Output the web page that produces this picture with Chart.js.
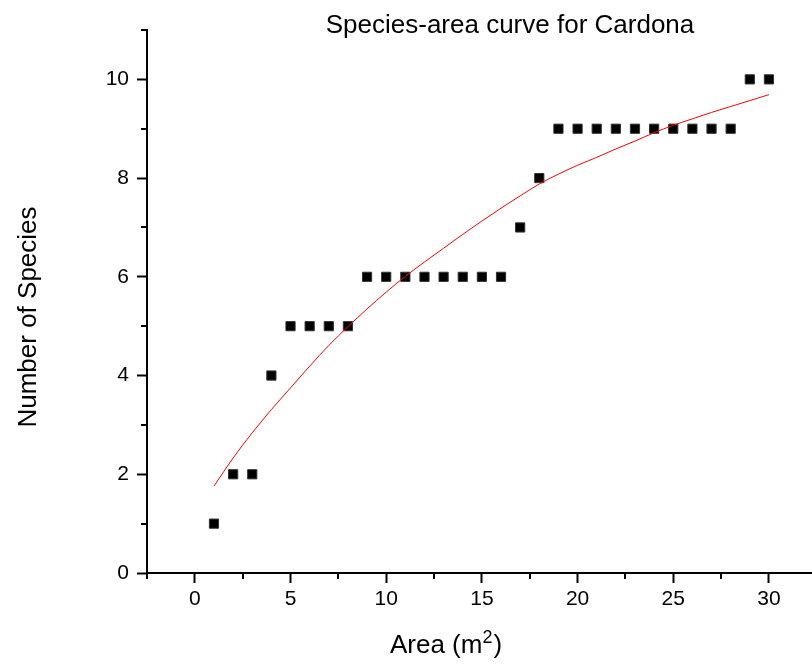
<!DOCTYPE html>
<html>
<head>
<meta charset="utf-8">
<title>Species-area curve for Cardona</title>
<script src="https://cdn.jsdelivr.net/npm/chart.js@4.4.1/dist/chart.umd.min.js"></script>
<style>
    html, body { margin: 0; padding: 0; background: #fff; overflow: hidden; }
    #chart-wrap { width: 812px; height: 666px; }
</style>
</head>
<body>
<div id="chart-wrap"><canvas id="species-area-chart" width="812" height="666"></canvas></div>
<script>
// --- Data ---
const areas = [1, 2, 3, 4, 5, 6, 7, 8, 9, 10, 11, 12, 13, 14, 15,
               16, 17, 18, 19, 20, 21, 22, 23, 24, 25, 26, 27, 28, 29, 30];
const speciesCounts = [1, 2, 2, 4, 5, 5, 5, 5, 6, 6, 6, 6, 6, 6, 6,
                       6, 7, 8, 9, 9, 9, 9, 9, 9, 9, 9, 9, 9, 10, 10];
// fitted curve, one value per area
const fitValues = [1.76, 2.33, 2.84, 3.31, 3.75, 4.19, 4.61, 4.99, 5.35, 5.69,
                   6.01, 6.30, 6.58, 6.86, 7.13, 7.39, 7.64, 7.88, 8.08, 8.26,
                   8.42, 8.59, 8.75, 8.92, 9.07, 9.20, 9.33, 9.45, 9.57, 9.69];

const xMajorTicks = [0, 5, 10, 15, 20, 25, 30];
const xMinorTicks = [-2.5, 2.5, 7.5, 12.5, 17.5, 22.5, 27.5];
const yMajorTicks = [0, 2, 4, 6, 8, 10];
const yMinorTicks = [1, 3, 5, 7, 9, 11];

const chartTitle = 'Species-area curve for Cardona';
const yTitle = 'Number of Species';
const xTitleMain = 'Area (m';
const xTitleSup = '2';
const xTitleEnd = ')';

const FONT = '"Liberation Sans", Arial, Helvetica, sans-serif';

// short ticks between the labelled ones
const minorTicksPlugin = {
    id: 'minorTicks',
    afterDraw(chart) {
        const { ctx, chartArea, scales } = chart;
        ctx.save();
        ctx.strokeStyle = '#000';
        ctx.lineWidth = 2;
        ctx.beginPath();
        xMinorTicks.forEach(v => {
            const px = Math.round(scales.x.getPixelForValue(v));
            ctx.moveTo(px, chartArea.bottom);
            ctx.lineTo(px, chartArea.bottom + 6);
        });
        yMinorTicks.forEach(v => {
            const py = Math.round(scales.y.getPixelForValue(v));
            ctx.moveTo(chartArea.left - 6, py);
            ctx.lineTo(chartArea.left, py);
        });
        ctx.stroke();
        ctx.restore();
    }
};

// chart title and axis titles (x title has a superscript)
const titlesPlugin = {
    id: 'titles',
    afterDraw(chart) {
        const { ctx } = chart;
        ctx.save();
        ctx.fillStyle = '#000';
        ctx.textBaseline = 'alphabetic';

        ctx.textAlign = 'center';
        ctx.font = `26px ${FONT}`;
        ctx.fillText(chartTitle, 510, 33);

        ctx.save();
        ctx.translate(36, 317);
        ctx.rotate(-Math.PI / 2);
        ctx.font = `26px ${FONT}`;
        ctx.fillText(yTitle, 0, 0);
        ctx.restore();

        ctx.textAlign = 'left';
        ctx.font = `26px ${FONT}`;
        const wMain = ctx.measureText(xTitleMain).width;
        const wEnd = ctx.measureText(xTitleEnd).width;
        ctx.font = `18px ${FONT}`;
        const wSup = ctx.measureText(xTitleSup).width;
        let x = 446 - (wMain + wSup + 1 + wEnd) / 2;
        const base = 653;
        ctx.font = `26px ${FONT}`;
        ctx.fillText(xTitleMain, x, base);
        x += wMain;
        ctx.font = `18px ${FONT}`;
        ctx.fillText(xTitleSup, x, base - 10);
        x += wSup + 1;
        ctx.font = `26px ${FONT}`;
        ctx.fillText(xTitleEnd, x, base);
        ctx.restore();
    }
};

const ctx = document.getElementById('species-area-chart').getContext('2d');

new Chart(ctx, {
    type: 'scatter',
    data: {
        datasets: [
            {
                label: 'Fit',
                data: areas.map((a, i) => ({ x: a, y: fitValues[i] })),
                showLine: true,
                borderColor: '#ff0000',
                borderWidth: 1,
                pointRadius: 0,
                cubicInterpolationMode: 'monotone',
                order: 0
            },
            {
                label: 'Species',
                data: areas.map((a, i) => ({ x: a, y: speciesCounts[i] })),
                pointStyle: 'rect',
                pointRadius: 6.5,
                backgroundColor: '#000',
                borderColor: '#333',
                borderWidth: 1,
                order: 1
            }
        ]
    },
    options: {
        responsive: false,
        animation: false,
        layout: { autoPadding: false, padding: { top: 30, right: 0, bottom: 0, left: 0 } },
        plugins: {
            legend: { display: false },
            title: { display: false },
            tooltip: { enabled: false }
        },
        scales: {
            x: {
                type: 'linear',
                min: -2.5,
                max: 32.25,
                afterBuildTicks: s => { s.ticks = xMajorTicks.map(v => ({ value: v })); },
                afterFit: s => { s.height = 93; },
                grid: { drawOnChartArea: false, tickLength: 10, tickWidth: 2, tickColor: '#000' },
                border: { display: true, color: '#000', width: 2 },
                ticks: {
                    color: '#000',
                    font: { family: FONT, size: 21 },
                    padding: 4,
                    maxRotation: 0,
                    autoSkip: false
                }
            },
            y: {
                type: 'linear',
                min: 0,
                max: 11,
                afterBuildTicks: s => { s.ticks = yMajorTicks.map(v => ({ value: v })); },
                afterFit: s => { s.width = 147; },
                grid: { drawOnChartArea: false, tickLength: 10, tickWidth: 2, tickColor: '#000' },
                border: { display: true, color: '#000', width: 2 },
                ticks: {
                    color: '#000',
                    font: { family: FONT, size: 21 },
                    padding: 8,
                    autoSkip: false
                }
            }
        }
    },
    plugins: [minorTicksPlugin, titlesPlugin]
});
</script>
</body>
</html>
